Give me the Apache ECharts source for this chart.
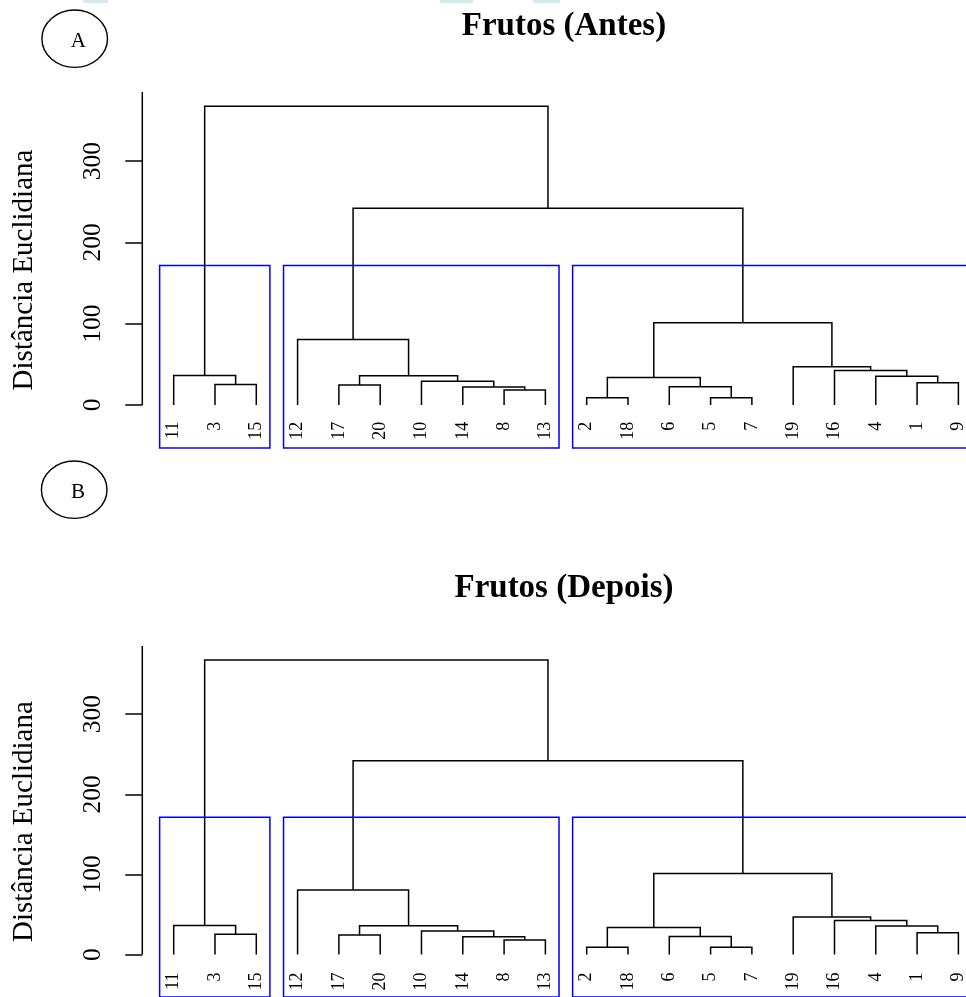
<!DOCTYPE html>
<html>
<head>
<meta charset="utf-8">
<script src="https://cdn.jsdelivr.net/npm/echarts@6/dist/echarts.min.js"></script>
<style>
  html, body { margin: 0; padding: 0; background: #ffffff; }
  #chart { width: 966px; height: 997px; }
</style>
</head>
<body>
<div id="chart"></div>
<script>
// Leaf labels in dendrogram order (left to right)
const leafLabels = [11, 3, 15, 12, 17, 20, 10, 14, 8, 13, 2, 18, 6, 5, 7, 19, 16, 4, 1, 9];
// Agglomeration steps, hclust style: negative = observation id, positive = earlier step (1-based)
const mergeA = [-2, -5, -8, -14, -6, -17, -3, -1, -10, 1, -4, 6, -11, -16, -19, -12, 10, 16, 13];
const mergeB = [-18, -7, -13, 3, 2, -20, -15, -9, 4, 5, 8, 9, 7, 11, 14, 12, 15, 17, 18];
const mergeHeight = [9.0, 9.0, 18.3, 22.1, 22.4, 24.5, 25.2, 27.3, 29.3, 33.7, 35.5, 36.0, 36.4, 42.5, 46.9, 80.6, 101.0, 242.0, 367.5];
// Number of groups outlined
const nGroups = 3;
// Y axis ticks
const yTicks = [0, 100, 200, 300];
const yTitle = 'Distância Euclidiana';
const panelTitles = ['Frutos (Antes)', 'Frutos (Depois)'];
const panelTags = ['A', 'B'];

const FONT = '"Liberation Serif", "Times New Roman", serif';
const LEFT = 142.3, CHART_W = 966, UNIT = 41.3;
const Y_MIN = -53, Y_MAX = 385;
const X_MIN = 0.24, X_MAX = X_MIN + (CHART_W - LEFT) / UNIT;

// ---- tree geometry (leaf positions 1..n, node x = midpoint of children) ----
const posOf = {};
leafLabels.forEach((id, i) => { posOf[id] = i + 1; });
const nodeX = [], nodeH = [];
const childX = c => (c < 0 ? posOf[-c] : nodeX[c - 1]);
const childH = c => (c < 0 ? 0 : nodeH[c - 1]);
const segments = [];
for (let i = 0; i < mergeHeight.length; i++) {
  const a = mergeA[i], b = mergeB[i];
  const xa = childX(a), xb = childX(b);
  nodeX.push((xa + xb) / 2);
  nodeH.push(mergeHeight[i]);
  segments.push([xa, childH(a), xb, childH(b), mergeHeight[i]]);
}

// ---- groups from cutting the tree into nGroups clusters ----
const sortedH = mergeHeight.slice().sort((p, q) => q - p);
const cutH = (sortedH[nGroups - 2] + sortedH[nGroups - 1]) / 2;
function leafRange(c) {
  if (c < 0) return [posOf[-c], posOf[-c]];
  const r1 = leafRange(mergeA[c - 1]), r2 = leafRange(mergeB[c - 1]);
  return [Math.min(r1[0], r2[0]), Math.max(r1[1], r2[1])];
}
const groups = [];
(function collect(c) {
  if (c > 0 && mergeHeight[c - 1] > cutH) { collect(mergeA[c - 1]); collect(mergeB[c - 1]); }
  else groups.push(leafRange(c));
})(mergeHeight.length);
const groupBoxes = groups.map(r => [r[0] - 0.34, r[1] + 0.33, cutH]);

const leafData = leafLabels.map((id, i) => [i + 1, id]);

// ---- panel layout ----
const panels = [
  { gridTop: 91.9, gridHeight: 356.2, labelGap: 16.7, titleTop: 5, tag: { cx: 74.7, cy: 38.7, tx: 78.3, ty: 41 } },
  { gridTop: 646.1, gridHeight: 351.4, labelGap: 18.0, titleTop: 567, tag: { cx: 74.2, cy: 489.7, tx: 78, ty: 492 } }
];

const grid = [], xAxis = [], yAxis = [], series = [], title = [], graphics = [];

panels.forEach((p, k) => {
  grid.push({ left: LEFT, right: 0, top: p.gridTop, height: p.gridHeight, containLabel: false });
  xAxis.push({ gridIndex: k, type: 'value', min: X_MIN, max: X_MAX, show: false });
  yAxis.push({
    gridIndex: k, type: 'value', min: Y_MIN, max: Y_MAX,
    axisLine: { show: false },
    splitLine: { show: false },
    axisTick: { show: true, customValues: yTicks, length: 17, lineStyle: { color: '#000', width: 1.5 } },
    axisLabel: { customValues: yTicks, rotate: 90, margin: 36, color: '#000', fontSize: 25.5, fontFamily: FONT },
    name: yTitle, nameLocation: 'middle', nameRotate: 90, nameGap: 103,
    nameTextStyle: { color: '#000', fontSize: 29, fontFamily: FONT }
  });
  title.push({
    text: panelTitles[k], left: 559, top: p.titleTop, textAlign: 'center',
    textStyle: { color: '#000', fontFamily: FONT, fontWeight: 'bold', fontSize: 33 }
  });

  // axis line from 0 up to the top of the axis
  series.push({
    type: 'custom', xAxisIndex: k, yAxisIndex: k, silent: true, clip: false,
    data: [[X_MIN, 0, Y_MAX]],
    renderItem: (params, api) => {
      const a = api.coord([api.value(0), api.value(1)]);
      const b = api.coord([api.value(0), api.value(2)]);
      return { type: 'line', shape: { x1: a[0], y1: a[1], x2: b[0], y2: b[1] }, style: { stroke: '#000', lineWidth: 1.5 } };
    }
  });

  // dendrogram branches
  series.push({
    type: 'custom', xAxisIndex: k, yAxisIndex: k, silent: true, clip: false,
    data: segments,
    renderItem: (params, api) => {
      const xa = api.value(0), ha = api.value(1), xb = api.value(2), hb = api.value(3), h = api.value(4);
      const pts = [api.coord([xa, ha]), api.coord([xa, h]), api.coord([xb, h]), api.coord([xb, hb])];
      return { type: 'polyline', shape: { points: pts }, style: { stroke: '#000', fill: 'none', lineWidth: 1.5 } };
    }
  });

  // group boxes
  series.push({
    type: 'custom', xAxisIndex: k, yAxisIndex: k, silent: true, clip: false,
    data: groupBoxes,
    renderItem: (params, api) => {
      const tl = api.coord([api.value(0), api.value(2)]);
      const br = api.coord([api.value(1), Y_MIN]);
      return {
        type: 'rect',
        shape: { x: tl[0], y: tl[1], width: br[0] - tl[0], height: br[1] - tl[1] },
        style: { stroke: '#0000ff', fill: 'none', lineWidth: 1.5 }
      };
    }
  });

  // leaf labels
  series.push({
    type: 'custom', xAxisIndex: k, yAxisIndex: k, silent: true, clip: false,
    data: leafData,
    renderItem: (params, api) => {
      const pt = api.coord([api.value(0), 0]);
      return {
        type: 'text', x: pt[0], y: pt[1] + p.labelGap, rotation: Math.PI / 2,
        style: { text: String(api.value(1)), fill: '#000', fontSize: 18, fontFamily: FONT, align: 'right', verticalAlign: 'middle' }
      };
    }
  });

  graphics.push({
    type: 'ellipse', shape: { cx: p.tag.cx, cy: p.tag.cy, rx: 32.8, ry: 28.7 },
    style: { stroke: '#000', fill: 'none', lineWidth: 1.4 }
  });
  graphics.push({
    type: 'text', x: p.tag.tx, y: p.tag.ty,
    style: { text: panelTags[k], fill: '#000', fontSize: 21, fontFamily: FONT, align: 'center', verticalAlign: 'middle' }
  });
});

// faint page-header strokes along the top edge
[[83, 108], [440, 473], [533, 560]].forEach(([x0, x1]) => {
  graphics.push({ type: 'rect', shape: { x: x0, y: 0, width: x1 - x0, height: 3 }, style: { fill: '#d3eaee' } });
});

const chart = echarts.init(document.getElementById('chart'), null, { renderer: 'canvas' });
chart.setOption({
  animation: false,
  backgroundColor: '#ffffff',
  title: title,
  grid: grid,
  xAxis: xAxis,
  yAxis: yAxis,
  series: series,
  graphic: { elements: graphics }
});
</script>
</body>
</html>
